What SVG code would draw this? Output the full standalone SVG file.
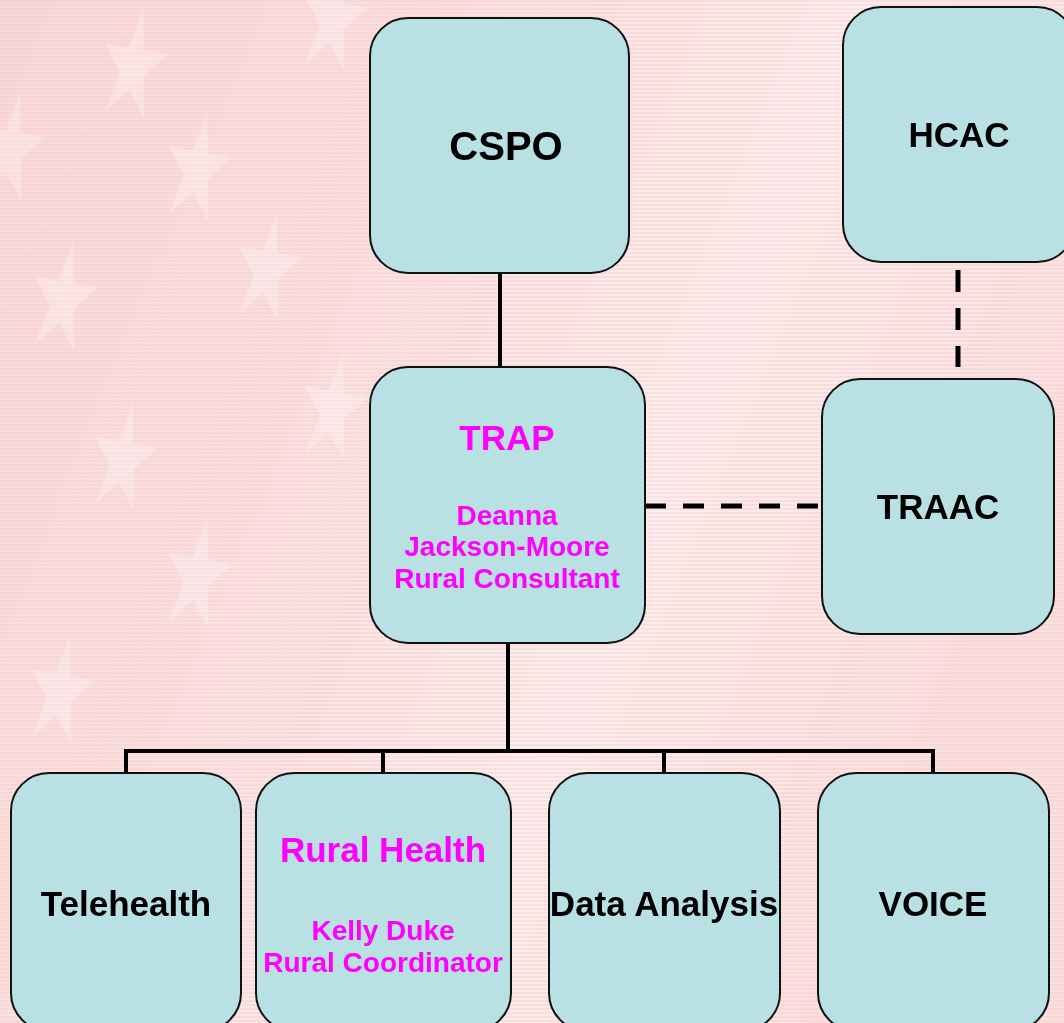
<svg xmlns="http://www.w3.org/2000/svg" xmlns:xlink="http://www.w3.org/1999/xlink" width="1064" height="1023" viewBox="0 0 1064 1023">
<defs>
<style>
.box{fill:#b9e0e3;stroke:#111;stroke-width:2}
.t{font-family:"Liberation Sans",Arial,Helvetica,sans-serif;font-weight:bold;text-anchor:middle}
.blk{fill:#000;font-size:35px}
.mag{fill:#ff00ff}
.solid{stroke:#000;stroke-width:4;fill:none}
.dash{stroke:#000;stroke-width:5;fill:none}
.star{fill:#ffffff;opacity:0.28}
</style>
<linearGradient id="bg" x1="0" y1="0" x2="1" y2="0.4">
<stop offset="0" stop-color="#f9d8d8"/>
<stop offset="0.45" stop-color="#fbe2e2"/>
<stop offset="0.7" stop-color="#fdeeee"/>
<stop offset="1" stop-color="#fbe0e0"/>
</linearGradient>
<pattern id="stripes" width="8" height="4" patternUnits="userSpaceOnUse">
<rect width="8" height="2" fill="#f3c4c4" opacity="0.35"/>
</pattern>
<polygon id="st" points="0,-1 0.223,-0.307 0.951,-0.309 0.361,0.117 0.588,0.809 0,0.38 -0.588,0.809 -0.361,0.117 -0.951,-0.309 -0.223,-0.307"/>
</defs>
<g id="background">
<rect width="1064" height="1023" fill="url(#bg)"/>
<rect width="1064" height="1023" fill="url(#stripes)"/>
<g class="star">
<use xlink:href="#st" transform="translate(133,67) rotate(10) scale(34,60)"/>
<use xlink:href="#st" transform="translate(197,170) rotate(10) scale(34,60)"/>
<use xlink:href="#st" transform="translate(267,270) rotate(10) scale(34,60)"/>
<use xlink:href="#st" transform="translate(63,300) rotate(10) scale(34,60)"/>
<use xlink:href="#st" transform="translate(333,20) rotate(10) scale(34,60)"/>
<use xlink:href="#st" transform="translate(123,460) rotate(10) scale(34,60)"/>
<use xlink:href="#st" transform="translate(197,577) rotate(10) scale(34,60)"/>
<use xlink:href="#st" transform="translate(60,693) rotate(10) scale(34,60)"/>
<use xlink:href="#st" transform="translate(333,410) rotate(10) scale(34,60)"/>
<use xlink:href="#st" transform="translate(10,150) rotate(10) scale(34,60)"/>
</g>
</g>
<g id="connectors">
<line class="solid" x1="500" y1="273" x2="500" y2="367"/>
<line class="solid" x1="508" y1="643" x2="508" y2="751"/>
<polyline class="solid" points="126,773 126,751 933,751 933,773"/>
<line class="solid" x1="383" y1="751" x2="383" y2="773"/>
<line class="solid" x1="664" y1="751" x2="664" y2="773"/>
<line class="dash" x1="645" y1="506" x2="822" y2="506" stroke-dasharray="21 17"/>
<line class="dash" x1="958" y1="270" x2="958" y2="367" stroke-dasharray="22 16"/>
</g>
<g id="cspo">
<rect class="box" x="370" y="18" width="259" height="255" rx="38"/>
<text class="t" x="506" y="160" font-size="40">CSPO</text>
</g>
<g id="hcac">
<rect class="box" x="843" y="7" width="232" height="255" rx="38"/>
<text class="t blk" x="959" y="147">HCAC</text>
</g>
<g id="trap">
<rect class="box" x="370" y="367" width="275" height="276" rx="38"/>
<text class="t mag" x="507" y="450" font-size="35">TRAP</text>
<text class="t mag" x="507" y="525" font-size="28">Deanna</text>
<text class="t mag" x="507" y="556" font-size="28">Jackson-Moore</text>
<text class="t mag" x="507" y="588" font-size="28">Rural Consultant</text>
</g>
<g id="traac">
<rect class="box" x="822" y="379" width="232" height="255" rx="38"/>
<text class="t blk" x="938" y="519">TRAAC</text>
</g>
<g id="telehealth">
<rect class="box" x="11" y="773" width="230" height="258" rx="38"/>
<text class="t blk" x="126" y="916">Telehealth</text>
</g>
<g id="rural-health">
<rect class="box" x="256" y="773" width="255" height="258" rx="38"/>
<text class="t mag" x="383" y="862" font-size="35">Rural Health</text>
<text class="t mag" x="383" y="940" font-size="28">Kelly Duke</text>
<text class="t mag" x="383" y="972" font-size="28">Rural Coordinator</text>
</g>
<g id="data-analysis">
<rect class="box" x="549" y="773" width="231" height="258" rx="38"/>
<text class="t blk" x="664" y="916">Data Analysis</text>
</g>
<g id="voice">
<rect class="box" x="818" y="773" width="231" height="258" rx="38"/>
<text class="t blk" x="933" y="916">VOICE</text>
</g>
</svg>
